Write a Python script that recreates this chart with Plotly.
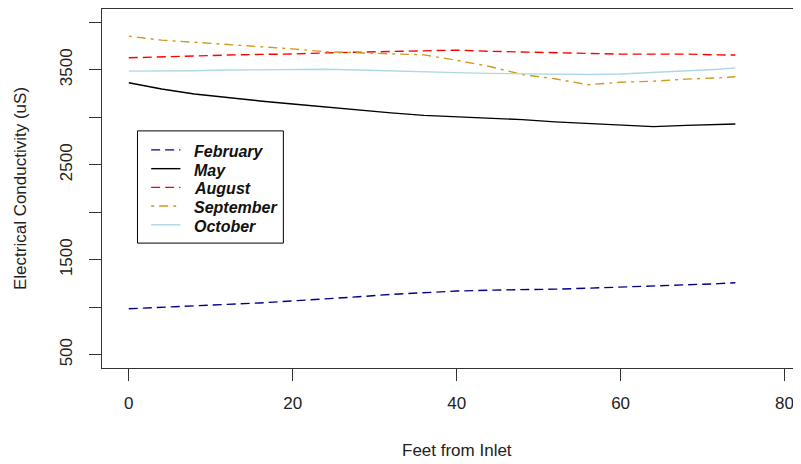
import plotly.graph_objects as go

feet = [0, 4, 8, 12, 16, 20, 24, 28, 32, 36, 40, 44, 48, 52, 56, 60, 64, 68, 72, 74]

february = [984, 1001, 1020, 1030, 1045, 1065, 1088, 1110, 1135, 1155, 1170, 1180, 1183, 1190, 1200, 1210, 1222, 1236, 1248, 1258]
may = [3363, 3297, 3245, 3205, 3172, 3140, 3108, 3075, 3046, 3020, 3004, 2993, 2975, 2952, 2935, 2915, 2902, 2915, 2925, 2929]
august = [3626, 3637, 3648, 3655, 3662, 3666, 3678, 3685, 3690, 3700, 3707, 3695, 3688, 3680, 3668, 3665, 3665, 3665, 3657, 3655]
september = [3854, 3812, 3790, 3768, 3747, 3720, 3690, 3679, 3670, 3657, 3600, 3535, 3450, 3405, 3343, 3368, 3380, 3402, 3415, 3427]
october = [3486, 3486, 3490, 3497, 3500, 3505, 3505, 3497, 3486, 3480, 3470, 3462, 3458, 3451, 3451, 3455, 3470, 3490, 3505, 3520]

series_names = ["February", "May", "August", "September", "October"]
series_values = [february, may, august, september, october]
colors = ["#00008B", "#000000", "#FF0000", "#CD9B1D", "#ADD8E6"]
dashes = ["9px,5px", "solid", "9px,5px", "3px,5px,9px,5px", "solid"]

y_tickvals = [500, 1000, 1500, 2000, 2500, 3000, 3500, 4000]
y_ticktext = ["500", "", "1500", "", "2500", "", "3500", ""]
x_tickvals = [0, 20, 40, 60, 80]
x_ticktext = ["0", "20", "40", "60", "80"]

FONT = "Liberation Sans, Arial, sans-serif"
TXT = "#222222"

fig = go.Figure()
for name, vals, col, dsh in zip(series_names, series_values, colors, dashes):
    fig.add_trace(go.Scatter(
        x=feet, y=vals, mode="lines", name=name, showlegend=False,
        line=dict(color=col, width=1.4, dash=dsh),
    ))

# Manual legend (layout decoration), paper coordinates
PW, PH = 699.5, 359.3
def px2x(px):
    return (px - 101.5) / PW
def py2y(py):
    return (368.3 - py) / PH

shapes = [dict(type="rect", xref="paper", yref="paper",
               x0=px2x(137), x1=px2x(283), y0=py2y(243.3), y1=py2y(131),
               line=dict(color="#000000", width=1), fillcolor="rgba(255,255,255,0)")]
annotations = []
row_y = [150, 168.8, 187.5, 206.2, 225]
for name, col, dsh, ry in zip(series_names, colors, dashes, row_y):
    shapes.append(dict(type="line", xref="paper", yref="paper",
                       x0=px2x(150.7), x1=px2x(180), y0=py2y(ry), y1=py2y(ry),
                       line=dict(color=col, width=1.4, dash=dsh)))
    annotations.append(dict(text="<b><i>%s</i></b>" % name, xref="paper", yref="paper",
                            x=px2x(192), y=py2y(ry + 1.5), xanchor="left", yanchor="middle",
                            showarrow=False, font=dict(family=FONT, size=16, color="#111111")))

annotations += [
    dict(text="Feet from Inlet", xref="paper", yref="paper", x=px2x(457), y=py2y(451),
         xanchor="center", yanchor="middle", showarrow=False,
         font=dict(family=FONT, size=17, color=TXT)),
    dict(text="Electrical Conductivity (uS)", xref="paper", yref="paper", x=px2x(20), y=0.5,
         xanchor="center", yanchor="middle", showarrow=False, textangle=-90,
         font=dict(family=FONT, size=17, color=TXT)),
]

fig.update_layout(
    width=793, height=456,
    margin=dict(l=93.5, r=0, t=1, b=95.7, pad=0),
    paper_bgcolor="white", plot_bgcolor="white",
    font=dict(family=FONT, size=17, color=TXT),
    showlegend=False,
    xaxis=dict(
        range=[-3.268, 82.01], showgrid=False, zeroline=False,
        showline=True, linecolor="#333333", linewidth=1, mirror=True,
        ticks="outside", ticklen=12, tickcolor="#333333",
        tickvals=x_tickvals, ticktext=x_ticktext, ticklabelstandoff=8,
    ),
    yaxis=dict(
        range=[360, 4140], showgrid=False, zeroline=False,
        showline=True, linecolor="#333333", linewidth=1, mirror=False,
        ticks="outside", ticklen=12, tickcolor="#333333",
        tickvals=y_tickvals, ticktext=y_ticktext, tickangle=-90,
        ticklabelstandoff=10,
    ),
    shapes=shapes,
    annotations=annotations,
)

fig.write_html("out.html")
